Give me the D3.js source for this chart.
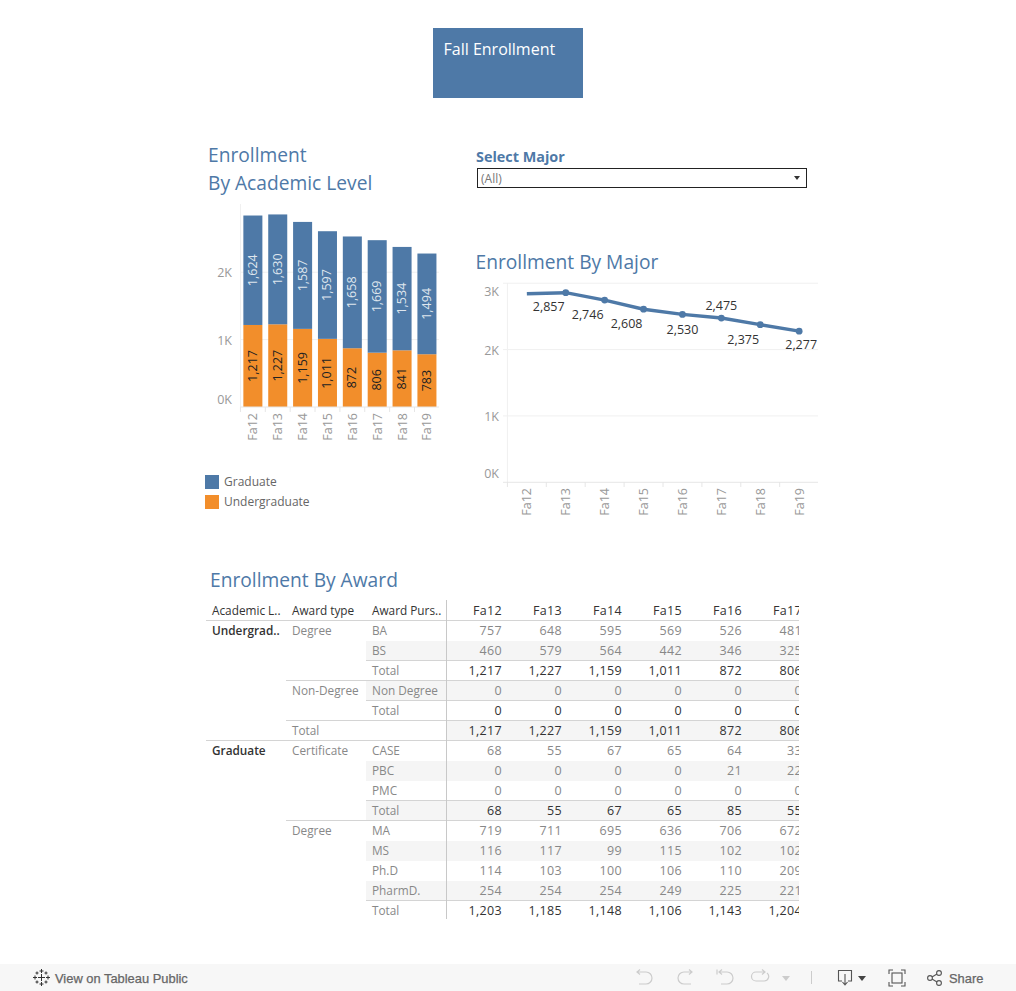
<!DOCTYPE html>
<html><head><meta charset="utf-8">
<script src="https://cdnjs.cloudflare.com/ajax/libs/d3/7.8.5/d3.min.js"></script>
<style>
html,body{margin:0;padding:0;background:#fff;overflow:hidden}
svg{display:block}
text{font-family:"Open Sans","Noto Sans",sans-serif}
</style></head><body><svg id="c" width="1016" height="991"></svg>
<script>
const terms = ["Fa12","Fa13","Fa14","Fa15","Fa16","Fa17","Fa18","Fa19"];
const graduate = [1624,1630,1587,1597,1658,1669,1534,1494];
const undergraduate = [1217,1227,1159,1011,872,806,841,783];
const majorTotal = [2841,2857,2746,2608,2530,2475,2375,2277];
const majorTicks = [0,1000,2000,3000];
const levelTicks = [0,1000,2000];
const tableTerms = ["Fa12","Fa13","Fa14","Fa15","Fa16","Fa17"];
const rowLevel  = ["Undergrad..","","","","","","Graduate","","","","","","","",""];
const rowType   = ["Degree","","","Non-Degree","","Total","Certificate","","","","Degree","","","",""];
const rowPurpose= ["BA","BS","Total","Non Degree","Total","","CASE","PBC","PMC","Total","MA","MS","Ph.D","PharmD.","Total"];
const rowValues = [
 [757,648,595,569,526,481],[460,579,564,442,346,325],[1217,1227,1159,1011,872,806],
 [0,0,0,0,0,0],[0,0,0,0,0,0],[1217,1227,1159,1011,872,806],
 [68,55,67,65,64,33],[0,0,0,0,21,22],[0,0,0,0,0,0],[68,55,67,65,85,55],
 [719,711,695,636,706,672],[116,117,99,115,102,102],[114,103,100,106,110,209],[254,254,254,249,225,221],
 [1203,1185,1148,1106,1143,1204]];

const BLUE="#4e79a7", ORANGE="#f28e2b", GRID="#f0f0f0", AX="#e6e6e6", TICK="#999", DARK="#333";
const fmt=d3.format(",");
const kfmt=d=>(d/1000)+"K";
const svg=d3.select("#c");
const txt=(g,x,y,s,o={})=>g.append("text").attr("x",x).attr("y",y-1).attr("dominant-baseline","central")
  .attr("font-size",o.size||12).attr("fill",o.fill||DARK).attr("text-anchor",o.anchor||"start")
  .attr("font-weight",o.weight||400).attr("letter-spacing",o.ls||null).text(s);

/* banner */
svg.append("rect").attr("x",433).attr("y",28).attr("width",150).attr("height",70).attr("fill",BLUE);
txt(svg,443.5,49.5,"Fall Enrollment",{size:16,fill:"#fff"});

/* titles */
txt(svg,208,155.5,"Enrollment",{size:19.2,fill:BLUE});
txt(svg,208,183,"By Academic Level",{size:19.2,fill:BLUE});
txt(svg,475.5,262,"Enrollment By Major",{size:19.2,fill:BLUE});
txt(svg,210,580,"Enrollment By Award",{size:19.2,fill:BLUE});

/* filter */
txt(svg,476,157.5,"Select Major",{size:14.4,fill:BLUE,weight:700});
svg.append("rect").attr("x",477.5).attr("y",168.5).attr("width",329).attr("height",19).attr("fill","#fff").attr("stroke","#222");
txt(svg,481,179,"(All)",{size:12,fill:"#777"});
svg.append("path").attr("d","M794,176 h6 l-3,4 z").attr("fill","#333");

/* stacked bars */
{
 const x=d3.scaleBand().domain(terms).range([240.5,439.3]).paddingInner(0.235).paddingOuter(0.115);
 const y=d3.scaleLinear().domain([0,2000]).range([407,272.2]);
 const g=svg.append("g");
 g.append("line").attr("x1",240.5).attr("x2",240.5).attr("y1",204).attr("y2",407).attr("stroke",GRID);
 const ya=d3.axisLeft(y).tickValues(levelTicks).tickFormat(kfmt).tickSize(0).tickPadding(0);
 const yg=g.append("g").attr("transform","translate(232,0)").call(ya);
 yg.select(".domain").remove();
 yg.selectAll("text").attr("font-size",12.5).attr("fill",TICK).attr("font-family",null).attr("dy",null).attr("dominant-baseline","central")
   .attr("y",d=>d===0?-8:0);
 g.selectAll(".gl").data(levelTicks.slice(1)).join("line").attr("x1",240.5).attr("x2",439).attr("y1",y).attr("y2",y).attr("stroke",GRID);
 const rows=terms.map((t,i)=>({t,Undergraduate:undergraduate[i],Graduate:graduate[i]}));
 const stack=d3.stack().keys(["Undergraduate","Graduate"])(rows);
 const col={Undergraduate:ORANGE,Graduate:BLUE}, lab={Undergraduate:"#222",Graduate:"#dfe6ee"};
 stack.forEach(s=>{
  g.selectAll(".b"+s.key).data(s).join("rect").attr("x",d=>x(d.data.t)).attr("width",x.bandwidth())
   .attr("y",d=>y(d[1])).attr("height",d=>y(d[0])-y(d[1])).attr("fill",col[s.key]);
  g.selectAll(".l"+s.key).data(s).join("text")
   .attr("transform",d=>`translate(${x(d.data.t)+x.bandwidth()/2-.5},${(y(d[0])+y(d[1]))/2}) rotate(-90)`)
   .attr("text-anchor","middle").attr("dominant-baseline","central").attr("font-size",12.5).attr("fill",lab[s.key])
   .text(d=>fmt(d.data[s.key]));
 });
 g.append("line").attr("x1",240.5).attr("x2",439).attr("y1",407).attr("y2",407).attr("stroke",AX);
 g.selectAll(".t").data(terms).join("line").attr("x1",d=>x(d)-x.step()*0.1175).attr("x2",d=>x(d)-x.step()*0.1175)
   .attr("y1",407).attr("y2",412).attr("stroke",AX);
 const xa=d3.axisBottom(x).tickSize(0).tickPadding(0);
 const xg=g.append("g").attr("transform","translate(0,413)").call(xa);
 xg.select(".domain").remove();
 xg.selectAll("text").attr("font-size",12.5).attr("fill",TICK).attr("font-family",null).attr("dy",null).attr("y",null)
   .attr("transform","rotate(-90)").attr("text-anchor","end").attr("dominant-baseline","central");
}
/* legend */
[["Graduate",BLUE],["Undergraduate",ORANGE]].forEach((d,i)=>{
 svg.append("rect").attr("x",205).attr("y",475+i*20).attr("width",14).attr("height",14).attr("fill",d[1]);
 txt(svg,224,482+i*20,d[0],{size:12,fill:"#666"});
});

/* line */
{
 const x=d3.scaleBand().domain(terms).range([507.4,818.6]);
 const y=d3.scaleLinear().domain([0,3000]).range([482.3,283.2]);
 const cx=t=>x(t)+x.bandwidth()/2;
 const g=svg.append("g");
 g.append("line").attr("x1",507.4).attr("x2",507.4).attr("y1",283).attr("y2",482).attr("stroke",GRID);
 g.selectAll(".gl").data(majorTicks).join("line").attr("x1",503).attr("x2",818).attr("y1",y).attr("y2",y).attr("stroke",d=>d?GRID:AX);
 const yg=g.append("g").attr("transform","translate(499,0)").call(d3.axisLeft(y).tickValues(majorTicks).tickFormat(kfmt).tickSize(0).tickPadding(0));
 yg.select(".domain").remove();
 yg.selectAll("text").attr("font-size",12.5).attr("fill",TICK).attr("font-family",null).attr("dy",null).attr("dominant-baseline","central")
   .attr("y",d=>d===3000?8:d===0?-9:0);
 g.selectAll(".t").data(terms).join("line").attr("x1",d=>x(d)).attr("x2",d=>x(d)).attr("y1",482).attr("y2",487).attr("stroke",AX);
 const xg=g.append("g").attr("transform","translate(0,488)").call(d3.axisBottom(x).tickSize(0).tickPadding(0));
 xg.select(".domain").remove();
 xg.selectAll("text").attr("font-size",12.5).attr("fill",TICK).attr("font-family",null).attr("dy",null).attr("y",null)
   .attr("transform","rotate(-90)").attr("text-anchor","end").attr("dominant-baseline","central");
 const pts=terms.map((t,i)=>({t,v:majorTotal[i],i}));
 g.append("path").datum(pts).attr("d",d3.line().x(d=>cx(d.t)).y(d=>y(d.v))).attr("fill","none").attr("stroke",BLUE).attr("stroke-width",3.4);
 g.selectAll(".dot").data(pts.slice(1)).join("circle").attr("cx",d=>cx(d.t)).attr("cy",d=>y(d.v)).attr("r",3.4).attr("fill",BLUE);
 const labelOffset=[null,[-17,14],[-17,14],[-17,14],[0,15],[0,-12.5],[-17,14.5],[2,13]];
 g.selectAll(".lb").data(pts.filter(d=>labelOffset[d.i])).join("text")
  .attr("x",d=>cx(d.t)+labelOffset[d.i][0]).attr("y",d=>y(d.v)+labelOffset[d.i][1])
  .attr("text-anchor","middle").attr("dominant-baseline","central").attr("font-size",12.5).attr("fill","#333").text(d=>fmt(d.v));
}

/* table */
{
 const ry=d3.scaleLinear().domain([0,1]).range([621,641]);
 const cx=d3.scaleBand().domain(tableTerms).range([442.5,802.5]);
 const g=svg.append("g");
 svg.append("clipPath").attr("id","tc").append("rect").attr("x",200).attr("y",598).attr("width",599).attr("height",325);
 g.attr("clip-path","url(#tc)");
 const isTotal=i=>rowPurpose[i]==="Total"||rowType[i]==="Total";
 const shade={1:366,3:366,5:447,7:366,9:366,11:366,13:366};
 const idx=rowPurpose.map((_,i)=>i);
 g.selectAll(".sh").data(idx.filter(i=>shade[i])).join("rect").attr("x",i=>shade[i]).attr("width",i=>799-shade[i])
   .attr("y",i=>ry(i)).attr("height",20).attr("fill","#f5f5f5");
 const rules=[[206,0],[366,2],[286,3],[366,4],[286,5],[206,6],[366,9],[286,10],[366,14]];
 g.selectAll(".ru").data(rules).join("line").attr("x1",d=>d[0]).attr("x2",799).attr("y1",d=>ry(d[1])-.5).attr("y2",d=>ry(d[1])-.5).attr("stroke","#d4d4d4");
 g.append("line").attr("x1",446.5).attr("x2",446.5).attr("y1",600).attr("y2",919).attr("stroke","#c8c8c8");
 const hdr=[[212,"Academic L.."],[292,"Award type"],[372,"Award Purs.."]];
 hdr.forEach(h=>txt(g,h[0],611,h[1],{size:11.8,fill:"#333"}));
 tableTerms.forEach(t=>txt(g,cx(t)+cx.bandwidth()-.5,611,t,{size:12.5,ls:.35,fill:"#333",anchor:"end"}));
 rowLevel.forEach((s,i)=>{if(s)txt(g,212,ry(i)+10,s,{size:11.8,fill:"#333",weight:600});});
 rowType.forEach((s,i)=>{if(s)txt(g,292,ry(i)+10,s,{size:11.8,fill:"#888"});});
 rowPurpose.forEach((s,i)=>{if(s)txt(g,372,ry(i)+10,s,{size:11.8,fill:"#888"});});
 rowValues.forEach((r,i)=>r.forEach((v,j)=>{
  txt(g,cx(tableTerms[j])+cx.bandwidth()-.5,ry(i)+10,fmt(v),{size:12.5,ls:.35,anchor:"end",fill:isTotal(i)?"#333":"#888"});
 }));
}

/* toolbar */
{
 svg.append("rect").attr("x",0).attr("y",964).attr("width",1016).attr("height",27).attr("fill","#f7f7f7");
 const tf="Liberation Sans,Arial,sans-serif";
 txt(svg,55,979,"View on Tableau Public",{size:12.9,fill:"#666"}).style("font-family",tf).attr("stroke","#666").attr("stroke-width",.25);
 txt(svg,949,979,"Share",{size:12.9,fill:"#666"}).style("font-family",tf).attr("stroke","#666").attr("stroke-width",.25);
 const logo=svg.append("g").attr("stroke","#333").attr("stroke-width",1).attr("fill","none");
 [[41.5,977.5,3.5],[35,977.5,2],[48,977.5,2],[41.5,971,2],[41.5,984,2],[37,973,1.5],[46,973,1.5],[37,982,1.5],[46,982,1.5]].forEach(c=>{
  logo.append("path").attr("d",`M${c[0]-c[2]},${c[1]}H${c[0]+c[2]}M${c[0]},${c[1]-c[2]}V${c[1]+c[2]}`);
 });
 const ic=svg.append("g").attr("fill","none").attr("stroke","#ccc").attr("stroke-width",1.2);
 ic.append("path").attr("d","M637,972 h9 a5.5,5.5 0 0 1 0,12 h-7 M640,969.5 l-3,2.5 l3,2.5");
 ic.append("path").attr("d","M692,972 h-8 a5.5,5.5 0 0 0 0,12 h7 M689,969.5 l3,2.5 l-3,2.5");
 ic.append("path").attr("d","M717,969.5 v5 M719,972 h8 a5.5,5.5 0 0 1 0,12 h-6 M722,969.5 l-3,2.5 l3,2.5");
 ic.append("path").attr("d","M765,972 h-9 a4.5,4.5 0 0 0 0,9 h8 a4.5,4.5 0 0 0 3,-8 M762,969.5 l3,2.5 l-3,2.5");
 svg.append("path").attr("d","M782,976 h8 l-4,5 z").attr("fill","#ccc");
 svg.append("line").attr("x1",811.5).attr("x2",811.5).attr("y1",971).attr("y2",984).attr("stroke","#ccc");
 const ic2=svg.append("g").attr("fill","none").attr("stroke","#555").attr("stroke-width",1.1);
 ic2.append("path").attr("d","M842,981 h-3.5 v-10.5 h13 v10.5 h-3.5 M845,974 v10 M842.5,982 l2.5,3 l2.5,-3");
 svg.append("path").attr("d","M858,976 h8 l-4,5 z").attr("fill","#444");
 ic2.append("path").attr("d","M889,974 v-4 h4 M901,970 h4 v4 M905,982 v4 h-4 M893,986 h-4 v-4");
 ic2.append("rect").attr("x",892).attr("y",973).attr("width",10).attr("height",10);
 ic2.append("circle").attr("cx",930).attr("cy",978).attr("r",2.4);
 ic2.append("circle").attr("cx",939).attr("cy",973).attr("r",2.4);
 ic2.append("circle").attr("cx",939).attr("cy",983).attr("r",2.4);
 ic2.append("path").attr("d","M932,977 l5,-3 M932,979 l5,3");
}
</script></body></html>
